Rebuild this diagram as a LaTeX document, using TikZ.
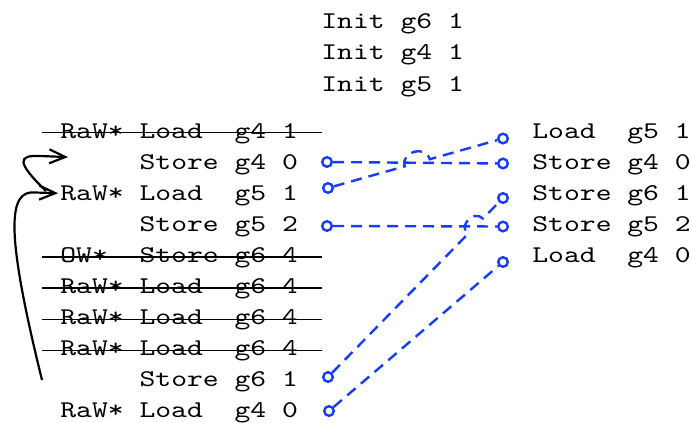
\documentclass[tikz,border=0pt]{standalone}
\usepackage{fontspec}
\setmonofont{lmmono10-regular.otf}[FakeStretch=1.257]
\usetikzlibrary{arrows.meta,positioning,calc}
\definecolor{linkblue}{RGB}{20,60,255}
\newcommand\blankpfx{\phantom{RaW*\ }}

\begin{document}
\begin{tikzpicture}[
    x=0.5pt, y=-0.5pt,
    every node/.style={font=\ttfamily\fontsize{12}{15}\selectfont},
    op/.style={anchor=base west, inner sep=0pt},
    port/.style={circle, draw=linkblue, line width=1.2pt, minimum size=4.8pt, inner sep=0pt},
    link/.style={draw=linkblue, line width=1.2pt, dash pattern=on 5.5pt off 3.5pt},
    strike/.style={draw, line width=0.6pt},
    jump/.style={-{Straight Barb[length=8pt,width=7pt]}, line width=1.1pt},
]
    \useasboundingbox (0,0) rectangle (691,423);

    % initial values
    \node[op] (i1) at (321,28)   {Init g6 1};
    \node[op] (i2) at (321,59.5) {Init g4 1};
    \node[op] (i3) at (321,91)   {Init g5 1};

    % left trace
    \node[op] (l1)  at (60,138)   {RaW* Load\ \ g4 1};
    \node[op] (l2)  at (60,169.1) {\blankpfx Store g4 0};
    \node[op] (l3)  at (60,200.2) {RaW* Load\ \ g5 1};
    \node[op] (l4)  at (60,231.3) {\blankpfx Store g5 2};
    \node[op] (l5)  at (60,262.4) {OW*\ \ Store g6 4};
    \node[op] (l6)  at (60,293.5) {RaW* Load\ \ g6 4};
    \node[op] (l7)  at (60,324.6) {RaW* Load\ \ g6 4};
    \node[op] (l8)  at (60,355.7) {RaW* Load\ \ g6 4};
    \node[op] (l9)  at (60,386.8) {\blankpfx Store g6 1};
    \node[op] (l10) at (60,417.9) {RaW* Load\ \ g4 0};

    % right trace
    \node[op] (r1) at (532,138)   {Load\ \ g5 1};
    \node[op] (r2) at (532,169.1) {Store g4 0};
    \node[op] (r3) at (532,200.2) {Store g6 1};
    \node[op] (r4) at (532,231.3) {Store g5 2};
    \node[op] (r5) at (532,262.4) {Load\ \ g4 0};

    % removed entries
    \foreach \k in {1,5,6,7,8}
        \draw[strike] ($(l\k.base west)+(-18,-5.5)$) -- ($(l\k.base east)+(24,-5.5)$);

    % ports
    \node[port] (pl2)  at (327,162) {};
    \node[port] (pl3)  at (328,188) {};
    \node[port] (pl4)  at (327,226) {};
    \node[port] (pl9)  at (328,377) {};
    \node[port] (pl10) at (329,411) {};
    \node[port] (pr1) at (503,138.5) {};
    \node[port] (pr2) at (503,163.5) {};
    \node[port] (pr3) at (503,198) {};
    \node[port] (pr4) at (503,226.5) {};
    \node[port] (pr5) at (503,262) {};

    % matches
    \draw[link] (pl2) -- (pr2);
    \draw[link] (pl4) -- (pr4);
    \draw[link] (pl10) -- (pr5);
    \coordinate (x1) at (intersection of pl3--pr1 and pl2--pr2);
    \draw[link] (pl3) -- ($(x1)!6.5pt!(pl3)$) to[bend left=90, looseness=1.5] ($(x1)!6.5pt!(pr1)$) -- (pr1);
    \coordinate (x2) at (intersection of pl9--pr3 and pl4--pr4);
    \draw[link] (pl9) -- ($(x2)!5.5pt!(pl9)$) to[bend left=90, looseness=1.5] ($(x2)!5.5pt!(pr3)$) -- (pr3);

    % reordering arrows
    \coordinate (t1) at (42,380);
    \coordinate (s2) at (46,191);
    \draw[jump] (t1) .. controls (5,230) and (8,190) .. (35,192.5) -- ($(l3.base west)+(-2,-7)$);
    \draw[jump] (s2) .. controls (16,162) and (18,155) .. (40,156) -- ($(l2.base west)+(8,-12)$);
\end{tikzpicture}
\end{document}
